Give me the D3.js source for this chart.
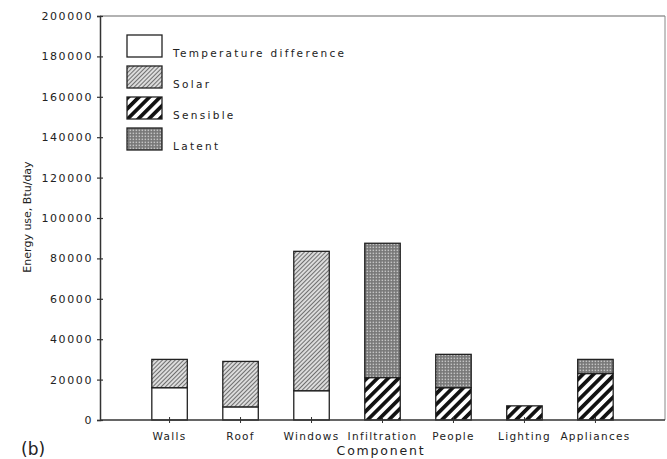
<!DOCTYPE html>
<html><head><meta charset="utf-8">
<script src="https://cdn.jsdelivr.net/npm/d3@7"></script>
<style>
html,body{margin:0;padding:0;background:#fff;}
svg{display:block;}
text{font-family:"DejaVu Sans",sans-serif;fill:#222;}
</style></head>
<body><svg id="c" width="667" height="459"></svg>
<script>
const categories = ["Walls","Roof","Windows","Infiltration","People","Lighting","Appliances"];
const tempDiff = [16000, 6500, 14500, 0, 0, 0, 0];
const solar    = [14000, 22500, 69000, 0, 0, 0, 0];
const sensible = [0, 0, 0, 21000, 16000, 7000, 23000];
const latent   = [0, 0, 0, 66500, 16500, 0, 7000];
const seriesNames = ["Temperature difference","Solar","Sensible","Latent"];
const seriesKeys = ["temp","solar","sensible","latent"];
const yTicks = [0,20000,40000,60000,80000,100000,120000,140000,160000,180000,200000];

const svg = d3.select("#c");
const L = 100, R = 665, T = 16, B = 420;

// patterns
const defs = svg.append("defs");
const pSolar = defs.append("pattern").attr("id","p-solar").attr("patternUnits","userSpaceOnUse")
  .attr("width",3).attr("height",3).attr("patternTransform","rotate(45)");
pSolar.append("rect").attr("width",3).attr("height",3).attr("fill","#dcdcdc");
pSolar.append("line").attr("x1",0).attr("y1",0).attr("x2",0).attr("y2",3).attr("stroke","#4a4a4a").attr("stroke-width",1.5);

const pSens = defs.append("pattern").attr("id","p-sens").attr("patternUnits","userSpaceOnUse")
  .attr("width",7.5).attr("height",7.5).attr("patternTransform","rotate(45)");
pSens.append("rect").attr("width",7.5).attr("height",7.5).attr("fill","#fff");
pSens.append("line").attr("x1",0).attr("y1",0).attr("x2",0).attr("y2",7.5).attr("stroke","#111").attr("stroke-width",7.4);

const pLat = defs.append("pattern").attr("id","p-lat").attr("patternUnits","userSpaceOnUse")
  .attr("width",3).attr("height",3);
pLat.append("rect").attr("width",3).attr("height",3).attr("fill","#777");
pLat.append("rect").attr("x",0.6).attr("y",0.6).attr("width",1.5).attr("height",1.5).attr("fill","#c4c4c4");

const fills = {temp:"#fff", solar:"url(#p-solar)", sensible:"url(#p-sens)", latent:"url(#p-lat)"};

const x = d3.scaleBand().domain(categories).range([L, R]).paddingInner(0.5).paddingOuter(0.73);
const y = d3.scaleLinear().domain([0, 200000]).range([B, T]);

const table = categories.map((c,i)=>({cat:c, temp:tempDiff[i], solar:solar[i], sensible:sensible[i], latent:latent[i]}));
const stacked = d3.stack().keys(seriesKeys)(table);

// frame
svg.append("line").attr("x1",L).attr("x2",R).attr("y1",T).attr("y2",T).attr("stroke","#666").attr("stroke-width",1.2);
svg.append("line").attr("x1",R).attr("x2",R).attr("y1",T).attr("y2",B).attr("stroke","#888").attr("stroke-width",1);

// bars
stacked.forEach(s=>{
  svg.append("g").selectAll("rect").data(s.filter(d=>d[1]-d[0]>0)).join("rect")
    .attr("x",d=>x(d.data.cat)).attr("width",x.bandwidth())
    .attr("y",d=>y(d[1])).attr("height",d=>y(d[0])-y(d[1]))
    .attr("fill",fills[s.key]).attr("stroke","#222").attr("stroke-width",1.3);
});

// y axis
const ya = svg.append("g").attr("transform",`translate(${L},0)`)
  .call(d3.axisLeft(y).tickValues(yTicks).tickFormat(d3.format("d")).tickSize(3).tickPadding(4));
ya.select(".domain").attr("stroke","#333").attr("stroke-width",1.5);
ya.selectAll(".tick line").attr("stroke","#333").attr("x1",3).attr("x2",-3).attr("stroke-width",1.2);
ya.selectAll(".tick text").attr("font-size",11).attr("letter-spacing","1.6px").attr("fill","#222")
  .attr("font-family","DejaVu Sans");

// x axis
const xa = svg.append("g").attr("transform",`translate(0,${B})`)
  .call(d3.axisBottom(x).tickSize(3).tickSizeOuter(0).tickPadding(10));
xa.select(".domain").attr("stroke","#333").attr("stroke-width",1.5).attr("d",`M${L},0H${R}`);
xa.selectAll(".tick line").attr("stroke","#333").attr("y1",-3).attr("y2",3);
xa.selectAll(".tick text").attr("font-size",10.5).attr("letter-spacing","1.3px").attr("fill","#222");

// axis titles
svg.append("text").attr("transform","translate(31,217) rotate(-90)").attr("text-anchor","middle")
  .attr("font-size",11).attr("font-family","Liberation Sans Narrow, Liberation Sans").text("Energy use, Btu/day");
svg.append("text").attr("x",381).attr("y",455).attr("text-anchor","middle")
  .attr("font-size",12.5).attr("letter-spacing","1.8px").text("Component");
svg.append("text").attr("x",21).attr("y",455).attr("font-size",17)
  .attr("font-family","Liberation Mono, DejaVu Sans Mono").text("(b)");

// legend
const lg = svg.append("g");
seriesKeys.forEach((k,i)=>{
  const yy = 35 + i*31;
  lg.append("rect").attr("x",127).attr("y",yy).attr("width",35).attr("height",22)
    .attr("fill",fills[k]).attr("stroke","#222").attr("stroke-width",1.3);
  lg.append("text").attr("x",173).attr("y",yy+22).attr("font-size",10.5)
    .attr("letter-spacing","2.3px").text(seriesNames[i]);
});
</script></body></html>
